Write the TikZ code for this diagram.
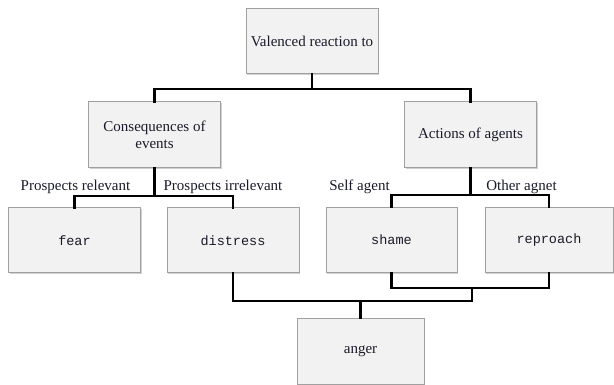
\documentclass[tikz,border=0pt]{standalone}
\usepackage{fontspec}
\setmainfont{Liberation Serif}
\setmonofont{Liberation Mono}
\usetikzlibrary{shadows}
\definecolor{boxfill}{HTML}{F2F2F2}
\definecolor{boxline}{HTML}{A0A0A0}
\definecolor{txt}{HTML}{1A1A2A}
\tikzset{
  box/.style={draw=boxline, line width=1pt, fill=boxfill, minimum width=132pt, minimum height=65pt,
    inner sep=2pt, align=center, text=txt, font=\fontsize{15}{17}\selectfont,
    drop shadow={shadow xshift=1.2pt, shadow yshift=-1.2pt, fill=black!30, opacity=0.6}},
  mbox/.style={box, font=\fontsize{13.5}{15}\selectfont\ttfamily},
  conn/.style={line width=2.8pt, line cap=rect},
  lbl/.style={font=\fontsize{15}{17}\selectfont, text=txt, inner sep=0pt}
}
\begin{document}
\begin{tikzpicture}[x=1pt,y=-1pt]
\useasboundingbox (0,0) rectangle (614,385);
\node[box] (top) at (312,41.5) {Valenced reaction to};
\node[box, minimum height=66pt] (cons) at (154.5,135) {Consequences of\\events};
\node[box, minimum height=66pt] (act) at (470.5,135) {Actions of agents};
\node[mbox] (fear) at (74.5,240.5) {fear};
\node[mbox] (distress) at (233,240.5) {distress};
\node[mbox, minimum width=131pt] (shame) at (391.5,240) {shame};
\node[mbox, minimum width=128pt] (reproach) at (549,240) {reproach};
\node[box, minimum width=127pt, minimum height=66pt] (anger) at (360.5,351) {anger};

\coordinate (j1) at (312,89);
\coordinate (j2) at (154.5,196);
\coordinate (j3) at (470.5,195);
\coordinate (b1) at (472,288);
\coordinate (b2) at (472,301);

\draw[conn] (top.south) -- (j1);
\draw[conn] (cons.north) |- (j1) -| (act.north);
\draw[conn] (cons.south) -- (j2);
\draw[conn] (fear.north) |- (j2) -| (distress.north);
\draw[conn] (act.south) -- (j3);
\draw[conn] (shame.north) |- (j3) -| (reproach.north);
\draw[conn] (shame.south) |- (b1) -| (reproach.south);
\draw[conn] (distress.south) |- (b2) -- (b1);
\draw[conn] (anger.north) -- (anger.north |- b2);

\node[lbl] (l1) at (75.5,187) {Prospects relevant};
\node[lbl] (l2) at (223,187) {Prospects irrelevant};
\node[lbl] (l3) at (359.5,187) {Self agent};
\node[lbl] (l4) at (521.5,187) {Other agnet};
\end{tikzpicture}
\end{document}
